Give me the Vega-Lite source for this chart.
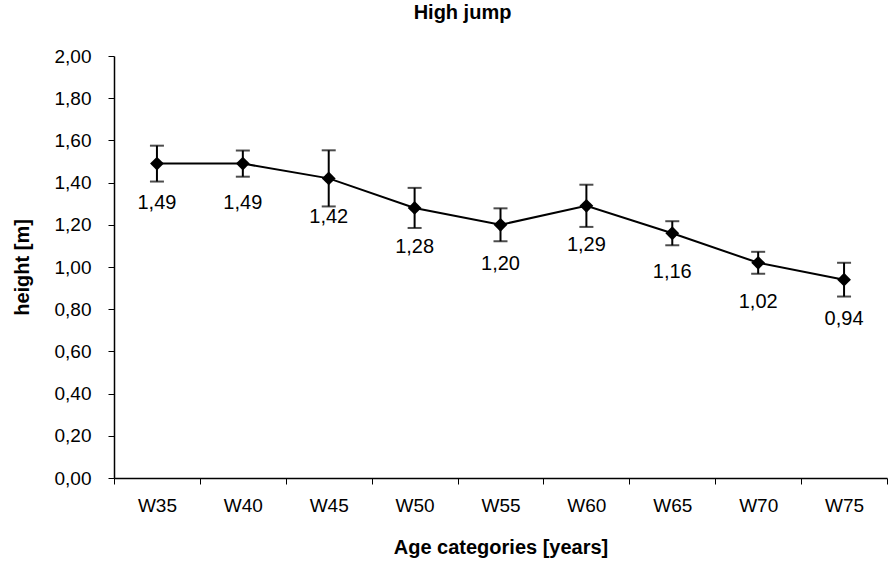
{
  "$schema": "https://vega.github.io/schema/vega-lite/v6.json",
  "width": 773,
  "height": 422,
  "autosize": {"type": "none"},
  "padding": {"left": 114, "top": 56, "right": 6, "bottom": 88},
  "background": "white",
  "config": {
    "view": {"stroke": null},
    "font": "Liberation Sans",
    "locale": {"number": {"decimal": ",", "thousands": ".", "grouping": [3], "currency": ["", "€"]}},
    "axis": {"grid": false, "domainColor": "black", "tickColor": "black", "labelColor": "black", "titleColor": "black", "labelFont": "Liberation Sans", "titleFont": "Liberation Sans", "labelFontSize": 19, "titleFontSize": 20, "titleFontWeight": "bold", "tickSize": 6, "domainWidth": 1.5, "tickWidth": 1}
  },
  "title": {"text": "High jump", "font": "Liberation Sans", "fontSize": 20, "fontWeight": "bold", "color": "black", "frame": "group", "offset": 24, "dx": -38},
  "data": {"values": [
    {"cat": "W35", "h": 1.49, "err": 0.085},
    {"cat": "W40", "h": 1.49, "err": 0.062},
    {"cat": "W45", "h": 1.42, "err": 0.133},
    {"cat": "W50", "h": 1.28, "err": 0.095},
    {"cat": "W55", "h": 1.20, "err": 0.078},
    {"cat": "W60", "h": 1.29, "err": 0.10},
    {"cat": "W65", "h": 1.16, "err": 0.057},
    {"cat": "W70", "h": 1.02, "err": 0.052},
    {"cat": "W75", "h": 0.94, "err": 0.08}
  ]},
  "encoding": {
    "x": {"field": "cat", "type": "nominal", "sort": null,
      "scale": {"type": "band", "paddingInner": 0, "paddingOuter": 0},
      "axis": {"title": "Age categories [years]", "labelAngle": 0, "tickBand": "extent", "labelPadding": 12, "titlePadding": 22}},
    "y": {"field": "h", "type": "quantitative", "title": "height [m]",
      "scale": {"domain": [0, 2], "nice": false, "zero": true},
      "axis": {"title": "height [m]", "values": [0, 0.2, 0.4, 0.6, 0.8, 1.0, 1.2, 1.4, 1.6, 1.8, 2.0], "format": ".2f", "labelPadding": 17, "titlePadding": 22}}
  },
  "layer": [
    {
      "mark": {"type": "errorbar", "ticks": {"size": 14, "thickness": 2, "color": "black"}, "rule": {"strokeWidth": 2, "color": "black"}},
      "encoding": {
        "yError": {"field": "err"}
      }
    },
    {
      "mark": {"type": "line", "color": "black", "strokeWidth": 2}
    },
    {
      "mark": {"type": "point", "shape": "diamond", "filled": true, "color": "black", "size": 190, "opacity": 1}
    },
    {
      "mark": {"type": "text", "fontSize": 20, "color": "black", "dy": 39, "baseline": "middle", "font": "Liberation Sans"},
      "encoding": {
        "text": {"field": "h", "type": "quantitative", "format": ".2f"}
      }
    }
  ]
}
